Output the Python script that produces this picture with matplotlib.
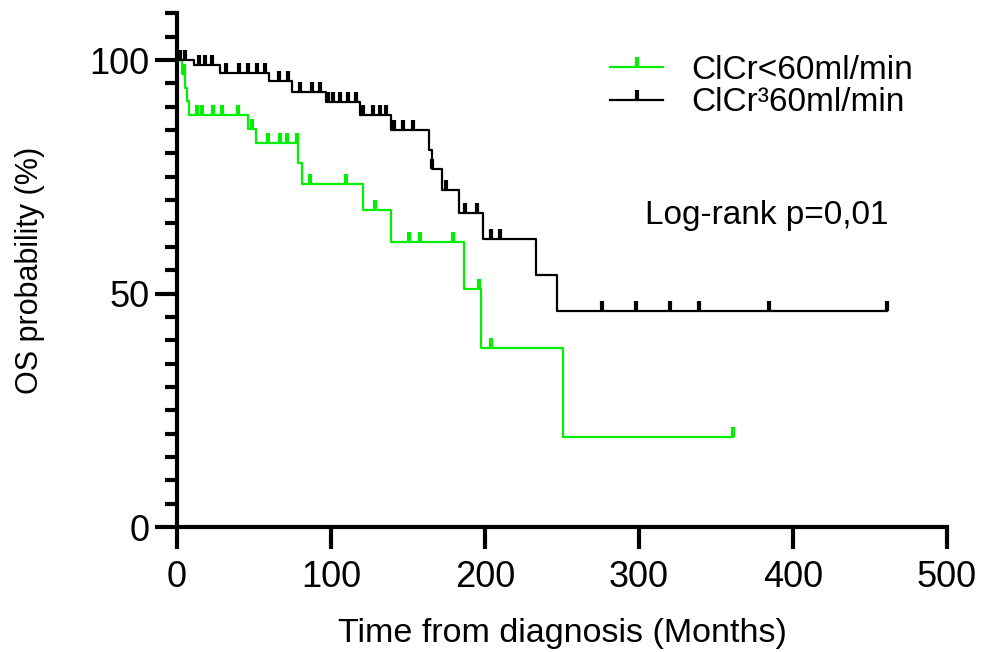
import numpy as np
import matplotlib
matplotlib.use("Agg")
import matplotlib.pyplot as plt
from matplotlib.lines import Line2D

plt.rcParams["font.family"] = ["Liberation Sans", "DejaVu Sans"]

# Kaplan-Meier steps: time of each drop (months) and survival after it (%)
green_times = [0, 3, 5, 6.5, 8, 46.3, 51.1, 78.7, 81.5, 121, 138.7, 186.4, 197.1, 250.7]
green_surv = [100, 97.1, 94.1, 91.2, 88.2, 85.2, 82.2, 78.0, 73.4, 67.9, 61.1, 50.9, 38.3, 19.3]
green_cens = [4.5, 13, 16.5, 23.5, 29.5, 39.8, 49, 59.3, 66.8, 71.2, 77.7, 86.3, 110,
              128.9, 150.7, 157.7, 179.3, 196, 204.2, 361]

black_times = [0, 10.8, 28, 60, 75, 97, 119, 139, 163.5, 165.3, 172.4, 183.2, 198.4, 233, 247]
black_surv = [100, 98.9, 97.2, 95.4, 93.2, 90.9, 88.2, 85.0, 80.7, 76.7, 72.2, 67.3, 61.7, 54.0, 46.25]
black_cens = [2, 5, 14, 18, 23, 32, 40, 46, 52, 57, 66, 72, 80, 88, 93, 98, 101.5, 106, 111,
              116, 121, 127, 132, 136, 141, 146.5, 153, 165.7, 175, 187.3, 195.1, 204.2,
              209.6, 276.2, 298.3, 319.9, 338.8, 384.2, 461]

labels = ["ClCr<60ml/min", "ClCr\u00b360ml/min"]
colors = ["#00f000", "black"]


def km_curve(ax, times, surv, cens, color):
    times = np.asarray(times, float)
    surv = np.asarray(surv, float)
    end = max(cens[-1], times[-1])
    xs = np.append(times, end)
    ys = np.append(surv, surv[-1])
    ax.plot(xs, ys, drawstyle="steps-post", color=color, lw=1.6, clip_on=False, zorder=3)
    idx = np.searchsorted(times, cens, side="right") - 1
    ax.plot(cens, surv[idx], ls="none", marker=2, ms=7, mew=3, color=color,
            clip_on=False, zorder=3)


fig = plt.figure(figsize=(9.83, 6.52), dpi=100)
ax = fig.add_axes([0.180, 0.1917, 0.7834, 0.7879])

km_curve(ax, green_times, green_surv, green_cens, colors[0])
km_curve(ax, black_times, black_surv, black_cens, colors[1])

ax.set_xlim(0, 500)
ax.set_ylim(0, 110)
ax.set_xticks(np.arange(0, 501, 100))
ax.set_yticks([0, 50, 100])
ax.set_yticks(np.arange(0, 111, 5), minor=True)

for side in ["top", "right"]:
    ax.spines[side].set_visible(False)
for side in ["left", "bottom"]:
    ax.spines[side].set_linewidth(3)
ax.tick_params(which="major", length=16, width=3, labelsize=26, direction="out")
ax.tick_params(axis="x", which="major", pad=8)
ax.tick_params(axis="y", which="major", pad=4)
ax.tick_params(axis="y", which="minor", length=9, width=3)
ax.tick_params(axis="x", which="minor", length=0)

ax.set_xlabel("Time from diagnosis (Months)", fontsize=24.5, labelpad=16)
ax.set_ylabel("OS probability (%)", fontsize=22, labelpad=32)

ax.text(303.7, 66.8, "Log-rank p=0,01", fontsize=24, ha="left", va="center")

handles = [Line2D([], [], color=c, lw=1.6, marker=2, ms=7, mew=3) for c in colors]
ax.legend(handles, labels, loc="upper left", bbox_to_anchor=(0.532, 0.965),
          frameon=False, fontsize=24, handlelength=1.6, handletextpad=0.85,
          labelspacing=0.05, borderaxespad=0.3)

fig.savefig("out.png", dpi=100)
